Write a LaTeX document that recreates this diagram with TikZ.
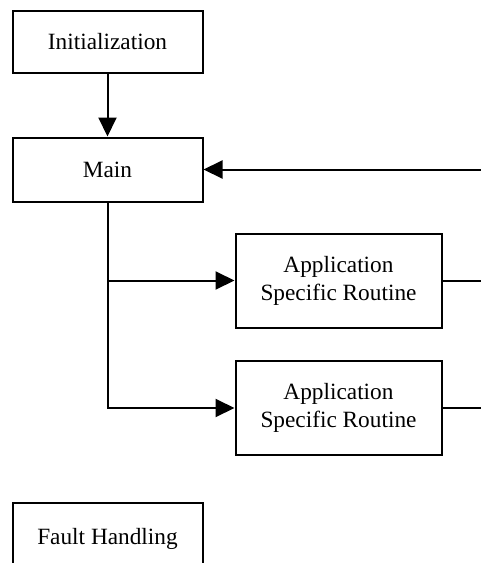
\documentclass[tikz,border=0pt]{standalone}
\usepackage{fontspec}
\setmainfont{Liberation Serif}
\usetikzlibrary{arrows.meta}
\begin{document}
\begin{tikzpicture}[x=1pt,y=-1pt,
  box/.style={draw=black, line width=2pt, rectangle, inner sep=0pt,
    font=\fontsize{23.3}{28}\selectfont, align=center},
  small/.style={box, minimum width=190pt},
  big/.style={box, minimum width=206pt, minimum height=94pt},
  conn/.style={line width=2pt},
  arr/.style={conn, -{Triangle[length=19pt,width=18pt]}}]
\clip (0,0) rectangle (481,563);
\fill[white] (0,0) rectangle (481,563);
\node[small, minimum height=62pt] (init) at (107.5,42) {Initialization};
\node[small, minimum height=64pt] (main) at (107.5,169.5) {Main};
\node[big] (app1) at (338.5,280.5) {Application\\Specific Routine};
\node[big] (app2) at (338.5,408) {Application\\Specific Routine};
\node[small, minimum height=66pt, text height=16pt, text depth=-7pt] (fault) at (107.5,536) {Fault Handling};
\coordinate (r1) at (481,169.5);
\coordinate (r2) at (481,280.5);
\coordinate (r3) at (481,408);
\draw[arr] (init.south) -- (main.north);
\draw[arr] (r1) -- (main.east);
\draw[arr] (main.south) |- (app2.west);
\draw[arr] (main.south |- app1.west) -- (app1.west);
\draw[conn] (app1.east) -- (r2);
\draw[conn] (app2.east) -- (r3);
\end{tikzpicture}
\end{document}
